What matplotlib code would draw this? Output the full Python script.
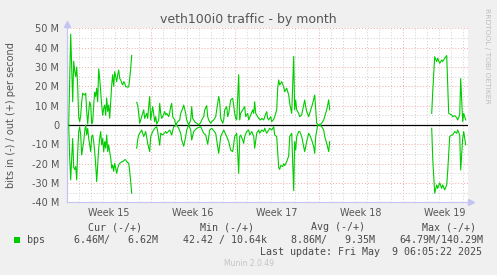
import numpy as np
import matplotlib
matplotlib.use("Agg")
import matplotlib.pyplot as plt
from matplotlib.ticker import MultipleLocator, FixedLocator, FuncFormatter
from matplotlib.patches import Rectangle
from matplotlib.lines import Line2D

# ---------------- data (time in hours since start of Week 15, values in Mbit/s) -------------
out1_h = [4, 8, 12, 14, 16, 18, 20, 22, 24, 26, 28, 30, 32, 36, 38, 40, 42, 44, 46, 48,
          50, 52, 54, 56, 58, 60, 62, 64, 66, 68, 70, 72, 74, 76, 78, 80, 82, 84, 86, 88,
          90, 92, 94, 96, 98, 100, 102, 104, 106, 108, 110, 112, 114, 116, 118, 120, 122, 124, 126, 128, 130]
out1_v = [0, 47, 12, 33, 28, 25, 30, 20, 4, 1.7, 5, 12, 16.4, 15.5, 16.4, 7, 0.5, 7, 12, 10.3,
          0.5, 1.7, 10.3, 17, 14.7, 19, 12, 29, 24, 17, 10.3, 5, 8.6, 10.3, 5, 14, 7, 10.3, 3.5, 12,
          20.7, 26, 20, 27.6, 25, 22.4, 25.9, 28.4, 24, 23.3, 21.6, 20.7, 22.4, 21.6, 19.8, 19.8, 19.5, 19.8, 24, 29.3, 36]
in1_h = [4, 6, 8, 10, 12, 14, 16, 18, 20, 22, 24, 26, 28, 30, 32, 34, 36, 38, 40, 42,
         44, 46, 48, 50, 52, 54, 56, 58, 60, 62, 64, 66, 68, 70, 72, 74, 76, 78, 80, 82,
         84, 86, 88, 90, 92, 94, 96, 98, 100, 102, 104, 106, 108, 110, 112, 114, 116, 118, 120, 122,
         124, 126, 128, 130]
in1_v = [0, 17, 28.4, 17, 7, 22, 23, 21.5, 28.4, 13.8, 3.4, 1, 5.2, 15.5, 12, 8.6, 3.4, 0, 5.2, 1.7,
         7, 10.3, 13.8, 6, 5.2, 8.6, 13.8, 20.7, 29.3, 20.7, 12, 6.9, 3.4, 10.3, 6.9, 13.8, 8.6, 12, 5.2, 13.8,
         10.3, 14, 17, 22.4, 20.7, 24, 19.8, 22.4, 25, 22.4, 20.7, 19.8, 19.5, 19, 19, 18.5, 18, 18, 19, 19.5,
         19.8, 24, 29.3, 35.3]

out2_h = [140, 142, 144, 146, 148, 150, 154, 156, 160, 162, 164, 166, 168, 170, 172, 176, 178, 180, 184, 186,
          188, 190, 192, 196, 198, 200, 204, 206, 208, 210, 212, 216, 218, 220, 222, 226, 228, 232, 234, 238,
          240, 244, 248, 250, 252, 256, 258, 260, 264, 268, 270, 274, 276, 280, 282, 284, 288, 290, 294, 298,
          300, 304, 306, 308, 312, 314, 316, 320, 322, 324, 328, 332, 336, 338, 340, 344, 346, 348, 352, 354,
          356, 358, 362, 364, 368, 372, 374, 376, 378, 382, 384, 388, 390, 394, 396, 400, 402, 404, 408, 410,
          414, 416, 420, 422, 424, 426, 430, 434, 436, 440, 444, 446, 450, 454, 456, 458, 460, 464, 466, 470,
          474, 476, 478, 480, 484, 486, 490, 492, 496, 498, 500, 504, 506, 510, 514, 516, 520, 524, 526]
out2_v = [11.7, 10.3, 6, 0.9, 2.6, 4.3, 7.8, 3.4, 6, 3.4, 9.5, 14.7, 2.6, 6, 9.5, 1.7, 4.3, 0.5, 2.6, 11.2,
          6, 3.4, 4.3, 6.9, 5.2, 6, 4.3, 6.4, 9.5, 11.2, 4.3, 2.6, 0, 0.9, 1.7, 2.6, 6, 8.6, 10.3, 6,
          2.6, 0, 2.6, 9.5, 3.4, 1.7, 1.2, 0.9, 0, 1.2, 2.6, 4.3, 7.8, 10, 4.3, 2.6, 0.9, 1.7, 2.6, 4.3,
          7.8, 14.7, 12, 3.4, 0.9, 2.6, 7.8, 9.5, 4.3, 6, 13, 13.8, 6, 3.4, 2.6, 26, 2.6, 6, 7.8, 8.6,
          9.5, 4.3, 6, 2.6, 5.2, 7.8, 6, 12, 6, 4.3, 3.4, 2.6, 3.4, 2.6, 4.3, 6.9, 3.4, 2.6, 4.3, 1.7,
          2.9, 4.3, 7.8, 19, 23.3, 20.7, 22.4, 19.8, 17.2, 19, 15.5, 11.2, 6, 35.5, 7.8, 12.9, 7.8, 6, 4.3, 5.2,
          10.3, 12.9, 9.5, 6.9, 4.3, 6, 9.5, 11.2, 15.5, 7.8, 0.9, 0, 0, 0.9, 2.6, 4.3, 7.8, 13, 7.8]
in2_h = [140, 142, 144, 148, 150, 154, 158, 162, 166, 168, 172, 176, 180, 182, 186, 188, 192, 198, 200, 206,
         210, 214, 220, 224, 228, 230, 234, 238, 240, 244, 248, 250, 254, 260, 268, 274, 278, 282, 286, 290,
         298, 304, 308, 314, 320, 324, 328, 332, 336, 340, 344, 346, 348, 352, 354, 356, 360, 364, 366, 370,
         374, 376, 380, 384, 386, 390, 394, 396, 400, 404, 406, 410, 414, 416, 420, 424, 426, 428, 432, 434,
         436, 440, 444, 446, 450, 454, 456, 458, 460, 464, 466, 470, 474, 476, 480, 484, 486, 490, 494, 496,
         498, 502, 506, 510, 514, 516, 520, 524, 526]
in2_v = [12, 7.8, 5.2, 3.4, 2.6, 6, 3.4, 9.5, 13.8, 6, 3.4, 1.7, 0.9, 3.4, 10.5, 4.3, 5.2, 3.4, 4.3, 2.6,
         5.2, 0.9, 0, 1.7, 4.3, 7.8, 11, 6, 2.6, 0, 2.6, 7.8, 3.4, 1.7, 0.9, 4.3, 5.2, 10, 2.6, 1.7,
         4.3, 14.7, 6, 2.6, 6, 8.6, 13, 13.8, 6, 4.3, 25, 6, 5.2, 7.8, 9.5, 6, 3.4, 2.6, 5.2, 3.4,
         6, 12, 4.3, 2.6, 4.3, 2.6, 3.4, 1.7, 4.3, 2.6, 1.7, 2.6, 0.9, 5.2, 6, 22, 23, 21, 21.5, 20,
         21, 19, 16, 6, 4.3, 34, 8.6, 13, 6, 3.4, 3.4, 6, 11.2, 13.8, 8.6, 4.3, 5.2, 7.8, 11.2, 14.7,
         6, 0, 0, 0.9, 2.6, 6, 9.5, 13.8, 8.6]

out3_h = [730, 732, 736, 740, 742, 746, 750, 752, 756, 760, 764, 770, 772, 776, 780, 782, 786, 788, 792, 794, 798]
out3_v = [6, 17, 35.3, 32.8, 34.5, 31.9, 33.6, 32.8, 34.5, 35.9, 6, 5.2, 4.3, 4.8, 3.8, 2.6, 5.2, 24, 1.7, 6, 2.6]
in3_h = [730, 732, 736, 740, 742, 746, 750, 752, 756, 760, 762, 766, 770, 772, 776, 780, 782, 786, 788, 792, 794, 798]
in3_v = [1.7, 17, 35.3, 31, 32.8, 30, 32.8, 31, 33.6, 31, 24, 6, 5.2, 5.2, 3.4, 4.3, 2.6, 5.2, 23.3, 6.9, 3.4, 10.3]

week_bounds = [168, 336, 504, 672]
week_centers = [84, 252, 420, 588, 756]
week_labels = ["Week 15", "Week 16", "Week 17", "Week 18", "Week 19"]

legend_headers = ["Cur (-/+)", "Min (-/+)", "Avg (-/+)", "Max (-/+)"]
legend_values = ["6.46M/   6.62M", "42.42 / 10.64k", "8.86M/   9.35M", "64.79M/140.29M"]
legend_name = "bps"
last_update = "Last update: Fri May  9 06:05:22 2025"

# ---------------- figure ----------------
W, H = 497, 275
fig = plt.figure(figsize=(W / 100, H / 100), dpi=100)
fig.patch.set_facecolor('#F0F0F0')

def fx(px):
    return px / W

def fy(py):
    return 1 - py / H

ax = fig.add_axes([fx(66.7), fy(202.3), 401 / W, 174 / H])
ax.set_facecolor('white')
ax.set_xlim(0, 802)
ax.set_ylim(-40, 50)

grid_minor = '#CFCFCF'
grid_major = '#F2A8A8'
ax.yaxis.set_major_locator(MultipleLocator(10))
ax.yaxis.set_minor_locator(MultipleLocator(5))
ax.xaxis.set_major_locator(FixedLocator(week_bounds))
ax.xaxis.set_minor_locator(MultipleLocator(24))
ax.xaxis.set_major_formatter(FuncFormatter(lambda v, p: ""))
ax.yaxis.set_major_formatter(FuncFormatter(lambda v, p: "0" if abs(v) < 1e-9 else f"{v:.0f} M"))
ax.grid(which='minor', color=grid_minor, ls=(0, (1, 2)), lw=0.7)
ax.grid(which='major', color=grid_major, ls=(0, (1, 2)), lw=0.7)
ax.set_axisbelow(True)
ax.tick_params(which='both', length=0)
ax.tick_params(axis='y', labelsize=7, labelcolor='#555555', pad=5.5)

for s in ['top', 'right']:
    ax.spines[s].set_visible(False)
axis_col = '#C4C4F2'
ax.spines['left'].set_color(axis_col)
ax.spines['bottom'].set_color(axis_col)
ax.spines['left'].set_linewidth(0.8)
ax.spines['bottom'].set_linewidth(0.8)

# zero line
ax.axhline(0, color='black', lw=0.9, zorder=2)

green = '#00CC00'

def series(hs, vs, sign):
    return np.array(hs, float), sign * np.array(vs, float)

for hs, vs in [(out1_h, out1_v), (out2_h, out2_v), (out3_h, out3_v)]:
    x, y = series(hs, vs, 1)
    ax.plot(x, y, color=green, lw=0.8, zorder=3, solid_joinstyle='round')
for hs, vs in [(in1_h, in1_v), (in2_h, in2_v), (in3_h, in3_v)]:
    x, y = series(hs, vs, -1)
    ax.plot(x, y, color=green, lw=0.8, zorder=3, solid_joinstyle='round')

# week labels
for c, lab in zip(week_centers, week_labels):
    ax.text(c, -0.06, lab, transform=ax.get_xaxis_transform(), ha='center', va='center',
            fontsize=6.9, color='#555555')

# axis arrows
fig.add_artist(Line2D([fx(66.7), fx(66.7)], [fy(202.3), fy(22)], color=axis_col, lw=0.8))
fig.add_artist(Line2D([fx(66.7)], [fy(24)], marker='^', markersize=4, color=axis_col, lw=0))
fig.add_artist(Line2D([fx(467.7), fx(473)], [fy(202.3), fy(202.3)], color=axis_col, lw=0.8))
fig.add_artist(Line2D([fx(471)], [fy(202.3)], marker='>', markersize=4, color=axis_col, lw=0))

# title and labels
fig.text(fx(248.5), fy(19.3), "veth100i0 traffic - by month", ha='center', va='center',
         fontsize=9, color='#555555')
fig.text(fx(11), fy(115), "bits in (-) / out (+) per second", rotation=90, ha='center', va='center',
         fontsize=7, color='#555555')
fig.text(fx(487.5), fy(56), "RRDTOOL / TOBI OETIKER", rotation=-90, ha='center', va='center',
         fontsize=5.4, color='#BDBDBD')

mono = 'DejaVu Sans Mono'
lc = '#4a4a4a'
header_right = [141.7, 254, 365, 476]
value_right = [158, 266.7, 375, 483]
for r, t in zip(header_right, legend_headers):
    fig.text(fx(r), fy(227.3), t, ha='right', va='center', fontsize=7.2, family=mono, color=lc)
for r, t in zip(value_right, legend_values):
    fig.text(fx(r), fy(239.7), t, ha='right', va='center', fontsize=7.2, family=mono, color=lc)
fig.add_artist(Rectangle((fx(14), fy(243)), 6 / W, 6 / H, transform=fig.transFigure,
                         facecolor=green, edgecolor='none'))
fig.text(fx(26.7), fy(239.7), legend_name, ha='left', va='center', fontsize=7.2, family=mono, color=lc)
fig.text(fx(482.5), fy(251.7), last_update, ha='right', va='center', fontsize=7.2, family=mono, color=lc)
fig.text(fx(248.8), fy(263.3), "Munin 2.0.49", ha='center', va='center', fontsize=5.5, color='#C4C4C4')

fig.savefig("out.png", dpi=100, facecolor=fig.get_facecolor())
